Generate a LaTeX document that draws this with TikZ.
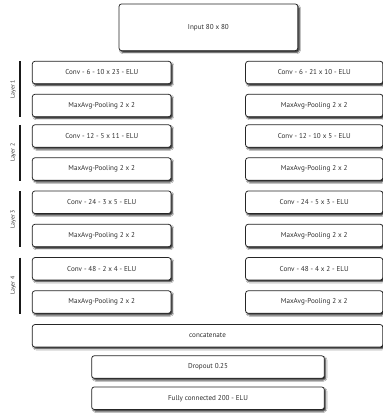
\documentclass[tikz,border=0pt]{standalone}
\usepackage{fontspec}
\setmainfont{PT Sans}
\usetikzlibrary{shadows.blur,calc}
\begin{document}
\begin{tikzpicture}[x=1pt,y=-1pt,
  box/.style={draw=black!85, line width=0.75pt, rounded corners=2.5pt, fill=white,
    minimum height=22.4pt, inner sep=0pt,
    font=\fontsize{7.1}{8}\selectfont, text=black!82,
    blur shadow={shadow xshift=1.5pt, shadow yshift=-1.8pt, shadow blur radius=1.3pt, shadow opacity=85}},
  lbox/.style={box, minimum width=138.7pt},
  rbox/.style={box, minimum width=137.2pt},
  layerbar/.style={line width=1.8pt, black!90},
  layerlbl/.style={rotate=90, font=\fontsize{5.8}{6.5}\selectfont, text=black!80, inner sep=0pt}
]
\useasboundingbox (0,0) rectangle (383,416);
\fill[white] (0,0) rectangle (383,416);

\node[box, minimum width=178.7pt, minimum height=46.7pt] (in) at (208.4,27.3) {Input 80 x 80};

\node[lbox] (c1) at (101.7,72.5) {Conv - 6 - 10 x 23 - ELU};
\node[lbox] (p1) at (101.7,105.5) {MaxAvg-Pooling 2 x 2};
\node[lbox] (c2) at (101.7,136) {Conv - 12 - 5 x 11 - ELU};
\node[lbox] (p2) at (101.7,169) {MaxAvg-Pooling 2 x 2};
\node[lbox] (c3) at (101.7,202.2) {Conv - 24 - 3 x 5 - ELU};
\node[lbox] (p3) at (101.7,235.5) {MaxAvg-Pooling 2 x 2};
\node[lbox] (c4) at (101.7,268.8) {Conv - 48 - 2 x 4 - ELU};
\node[lbox] (p4) at (101.7,302) {MaxAvg-Pooling 2 x 2};

\node[rbox] (rc1) at (314.2,72.5) {Conv - 6 - 21 x 10 - ELU};
\node[rbox] (rp1) at (314.2,105.5) {MaxAvg-Pooling 2 x 2};
\node[rbox] (rc2) at (314.2,136) {Conv - 12 - 10 x 5 - ELU};
\node[rbox] (rp2) at (314.2,169) {MaxAvg-Pooling 2 x 2};
\node[rbox] (rc3) at (314.2,202.2) {Conv - 24 - 5 x 3 - ELU};
\node[rbox] (rp3) at (314.2,235.5) {MaxAvg-Pooling 2 x 2};
\node[rbox] (rc4) at (314.2,268.8) {Conv - 48 - 4 x 2 - ELU};
\node[rbox] (rp4) at (314.2,302) {MaxAvg-Pooling 2 x 2};

\node[box, minimum width=350.5pt] (cat) at (207.55,335.8) {concatenate};
\node[box, minimum width=232.6pt] (drop) at (208,367) {Dropout 0.25};
\node[box, minimum width=232.6pt] (fc) at (208,398.2) {Fully connected 200 - ELU};

\foreach \c/\p/\n in {c1/p1/1, c2/p2/2, c3/p3/3, c4/p4/4}{
  \coordinate (t\n) at ([xshift=-11.6pt,yshift=-0.5pt]\c.north west);
  \coordinate (b\n) at ([xshift=-11.6pt]\p.south west);
  \draw[layerbar] (t\n) -- (b\n);
  \node[layerlbl] (lab\n) at ($($(t\n)!0.5!(b\n)$)+(-7.3pt,0)$) {Layer \n};
}
\end{tikzpicture}
\end{document}
